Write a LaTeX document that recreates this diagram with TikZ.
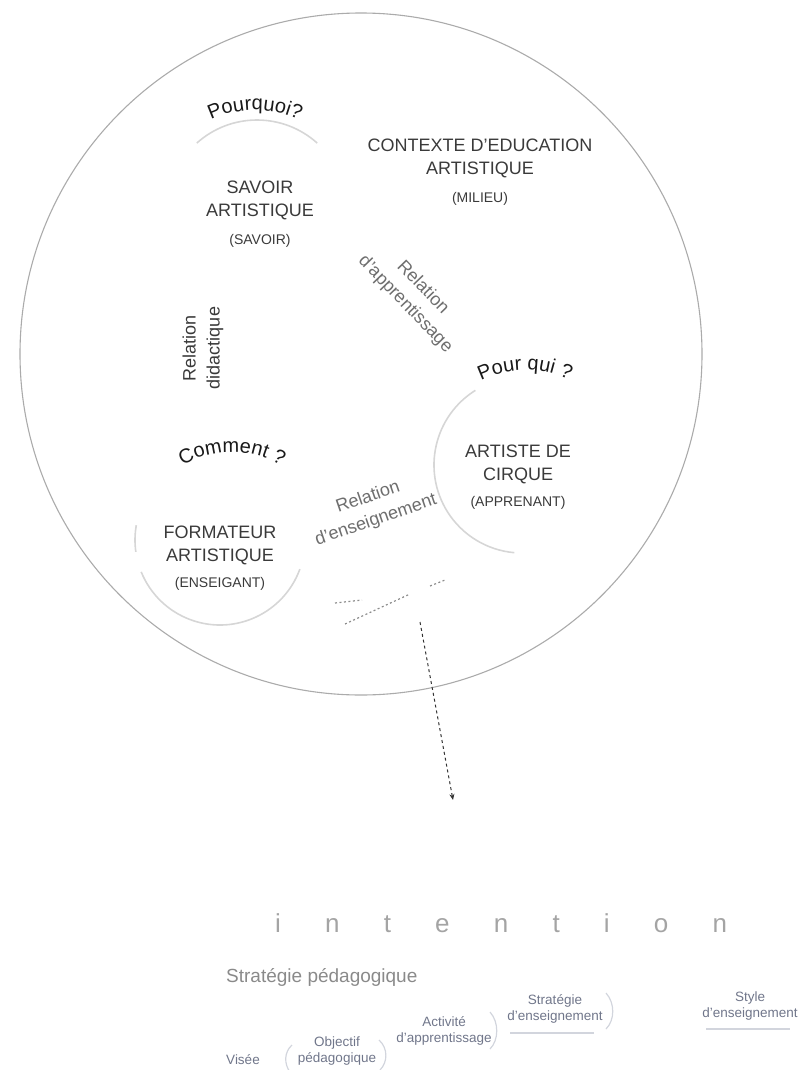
\documentclass[tikz,border=0pt]{standalone}
\usepackage{fontspec}
\setmainfont{Liberation Sans}
\usetikzlibrary{arrows.meta,decorations.text}
\definecolor{ringgray}{HTML}{ABABAB}
\definecolor{arcgray}{HTML}{D6D6D6}
\definecolor{labelgray}{HTML}{3A3A3A}
\definecolor{relgray}{HTML}{6E6E6E}
\definecolor{intgray}{HTML}{A4A4A4}
\definecolor{sptext}{HTML}{8A8A8A}
\definecolor{boxtxt}{HTML}{70768A}
\definecolor{boxline}{HTML}{D2D5DD}
\begin{document}
\begin{tikzpicture}[x=1pt,y=-1pt,
  mainlabel/.style={align=center,text=labelgray,inner sep=0pt,
    font=\fontsize{18}{23}\selectfont},
  rellabel/.style={align=center,text=relgray,inner sep=0pt,
    font=\fontsize{18}{24}\selectfont},
  ring/.style={draw=ringgray,line width=1.1pt},
  innerarc/.style={draw=arcgray,line width=1.6pt},
  curvedtext/.style={decorate,decoration={text along path,text={#1},
    text align=center,text color=black!90}},
  arrowline/.style={draw=black!80,line width=1pt,dash pattern=on 3pt off 3pt,
    -{Stealth[length=6pt,width=5pt]}},
  squiggle/.style={draw=black!45,line width=1.2pt,dash pattern=on 2pt off 2.5pt},
  boxtext/.style={align=center,text=boxtxt,inner sep=0pt,
    font=\fontsize{13.5}{16}\selectfont},
  boxedge/.style={draw=boxline,line width=1.2pt}
]
\useasboundingbox (0,0) rectangle (800,1070);

% outer ring
\draw[ring] (361,354) circle[radius=341];

% inner partial circles
\draw[innerarc] ([shift={(257,210)}]-132:90) arc[start angle=-132,end angle=-48,radius=90];
\draw[innerarc] ([shift={(522,465)}]-122:88) arc[start angle=-122,end angle=-265,radius=88];
\draw[innerarc] ([shift={(220,540)}]20:85) arc[start angle=20,end angle=158,radius=85];
\draw[innerarc] ([shift={(220,540)}]172:85) arc[start angle=172,end angle=190,radius=85];

% curved questions
\path[curvedtext={|\fontsize{20}{22}\selectfont|Pourquoi?}]
  ([shift={(255,212)}]-125:102) arc[start angle=-125,end angle=-55,radius=102];
\path[curvedtext={|\fontsize{20}{22}\selectfont|Pour qui ?}]
  ([shift={(525,470)}]-125:100) arc[start angle=-125,end angle=-55,radius=100];
\path[curvedtext={|\fontsize{20}{22}\selectfont|Comment ?}]
  ([shift={(232,548)}]-125:96) arc[start angle=-125,end angle=-55,radius=96];

% main labels
\node[mainlabel] (savoir) at (260,214)
  {SAVOIR\\ARTISTIQUE\\[5pt]\fontsize{14}{17}\selectfont (SAVOIR)};
\node[mainlabel] (milieu) at (480,172)
  {CONTEXTE D'EDUCATION\\ARTISTIQUE\\[5pt]\fontsize{14}{17}\selectfont (MILIEU)};
\node[mainlabel] (apprenant) at (518,477)
  {ARTISTE DE\\CIRQUE\\[3pt]\fontsize{14}{17}\selectfont (APPRENANT)};
\node[mainlabel] (enseignant) at (220,558)
  {FORMATEUR\\ARTISTIQUE\\[3pt]\fontsize{14}{17}\selectfont (ENSEIGANT)};

% relation labels
\node[rellabel,text=labelgray,rotate=90] (reldid) at (203,348) {Relation\\didactique};
\node[rellabel,rotate=-46] (relapp) at (414,296) {Relation\\d'apprentissage};
\node[rellabel,rotate=19] (relens) at (372,509) {Relation\\d'enseignement};

% illegible marks
\draw[squiggle] (335,603) -- (362,600);
\draw[squiggle] (345,624) -- (410,594);
\draw[squiggle] (430,586) -- (445,580);

% dashed arrow
\coordinate (arrowtail) at (420,622);
\coordinate (arrowtip) at (453,800);
\draw[arrowline] (arrowtail) -- (arrowtip);

% lower part
\node[anchor=base west,inner sep=0pt,text=intgray,
  font=\fontsize{26}{30}\selectfont\addfontfeature{LetterSpace=170}]
  (intention) at (275,932) {intention};
\node[anchor=base west,inner sep=0pt,text=sptext,font=\fontsize{19}{22}\selectfont]
  (strategiep) at (226,982) {Stratégie pédagogique};

\node[boxtext] (visee) at (243,1060) {Visée};
\node[boxtext] (objectif) at (337,1051) {Objectif\\pédagogique};
\node[boxtext] (activite) at (444,1031) {Activité\\d'apprentissage};
\node[boxtext] (strategie) at (555,1009) {Stratégie\\d'enseignement};
\node[boxtext] (style) at (750,1006) {Style\\d'enseignement};

\draw[boxedge] (292,1045) .. controls (284,1052) and (284,1064) .. (290,1072);
\draw[boxedge] (379,1040) .. controls (388,1048) and (388,1062) .. (380,1070);
\draw[boxedge] (490,1012) .. controls (499,1022) and (499,1040) .. (490,1049);
\draw[boxedge] (606,993) .. controls (615,1003) and (615,1020) .. (606,1029);
\draw[boxedge] (510,1033) -- (594,1033);
\draw[boxedge] (706,1029) -- (790,1029);
\end{tikzpicture}
\end{document}
